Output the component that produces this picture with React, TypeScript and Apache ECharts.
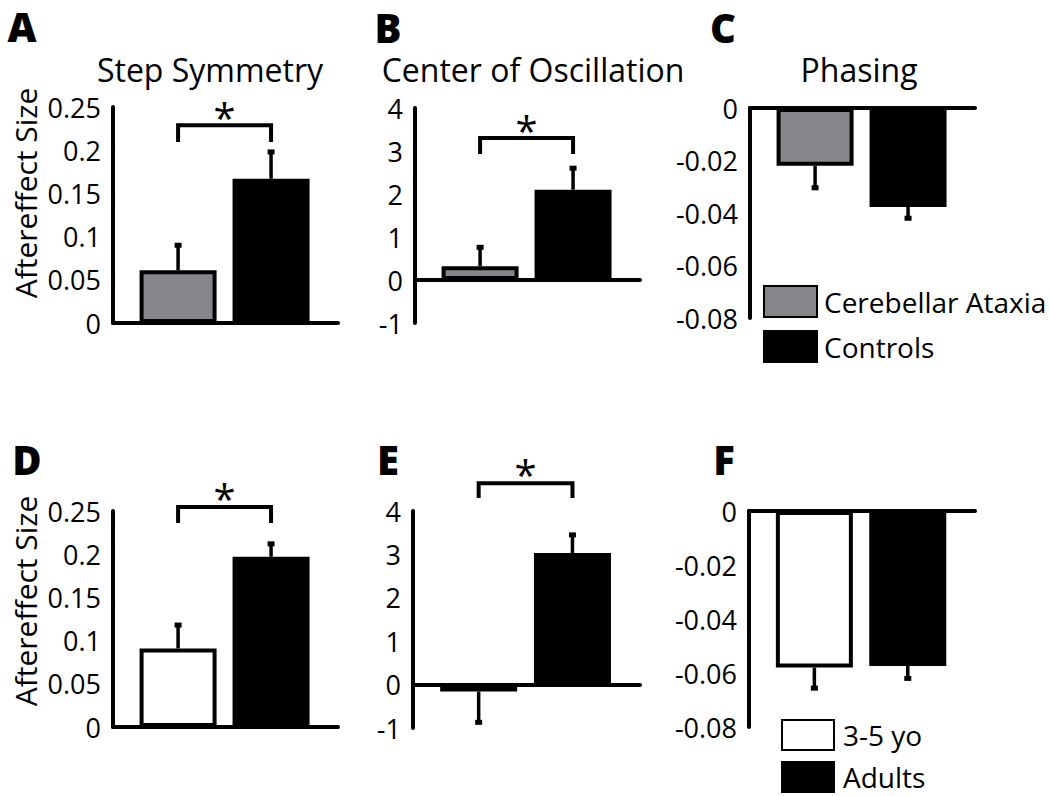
import React, { useEffect, useRef } from 'react';
import * as echarts from 'echarts';

// ---------- data ----------
const topGroups = ['Cerebellar Ataxia', 'Controls'];
const bottomGroups = ['3-5 yo', 'Adults'];
const groupX = [1, 2];

const panelTitles = ['Step Symmetry', 'Center of Oscillation', 'Phasing'];
const panelLetters = ['A', 'B', 'C', 'D', 'E', 'F'];
const yAxisTitle = 'Aftereffect Size';

const stepSymTopMean = [0.061, 0.167];
const stepSymTopErr = [0.029, 0.031];
const centerOscTopMean = [0.32, 2.1];
const centerOscTopErr = [0.44, 0.5];
const phasingTopMean = [-0.022, -0.0377];
const phasingTopErr = [0.0084, 0.0043];

const stepSymBottomMean = [0.091, 0.197];
const stepSymBottomErr = [0.027, 0.015];
const centerOscBottomMean = [-0.16, 3.03];
const centerOscBottomErr = [0.71, 0.42];
const phasingBottomMean = [-0.058, -0.0574];
const phasingBottomErr = [0.0076, 0.0046];

// y axis ranges [min, max, interval]
const stepSymRange = [0, 0.25, 0.05];
const centerOscRange = [-1, 4, 1];
const phasingRange = [-0.08, 0, 0.02];

// significance brackets: [xFrom, xTo, bracketTop, legEnd, starY]
const sigA = [1, 2, 0.229, 0.2095, 0.2465];
const sigB = [1, 2, 3.3, 2.93, 3.63];
const sigD = [1, 2, 0.2546, 0.236, 0.272];
const sigE = [1, 2, 4.64, 4.3, 5.01];

// ---------- styles / layout ----------
const FONT = '"Open Sans", "Noto Sans", sans-serif';
const GRAY = '#85868a';
const X_MIN = 0.3;
const X_MAX = 2.72;
const BAR_W = 77;
const STAR_DY = 7;

const grids = [
  { left: 113, top: 107, width: 225, height: 216 },
  { left: 415, top: 108, width: 225, height: 215 },
  { left: 750, top: 108, width: 225, height: 210 },
  { left: 113, top: 511, width: 225, height: 216 },
  { left: 413, top: 511, width: 227, height: 217 },
  { left: 749, top: 511, width: 226, height: 216 },
];

type Panel = {
  mean: number[];
  err: number[];
  range: number[];
  names: string[];
  fill: string;
  sig: number[] | null;
};

const panels: Panel[] = [
  { mean: stepSymTopMean, err: stepSymTopErr, range: stepSymRange, names: topGroups, fill: GRAY, sig: sigA },
  { mean: centerOscTopMean, err: centerOscTopErr, range: centerOscRange, names: topGroups, fill: GRAY, sig: sigB },
  { mean: phasingTopMean, err: phasingTopErr, range: phasingRange, names: topGroups, fill: GRAY, sig: null },
  { mean: stepSymBottomMean, err: stepSymBottomErr, range: stepSymRange, names: bottomGroups, fill: '#ffffff', sig: sigD },
  { mean: centerOscBottomMean, err: centerOscBottomErr, range: centerOscRange, names: bottomGroups, fill: '#ffffff', sig: sigE },
  { mean: phasingBottomMean, err: phasingBottomErr, range: phasingRange, names: bottomGroups, fill: '#ffffff', sig: null },
];

function buildOption() {
  const xAxis: any[] = [];
  const yAxis: any[] = [];
  const series: any[] = [];

  panels.forEach((p, i) => {
    xAxis.push({
      type: 'value',
      gridIndex: i,
      min: X_MIN,
      max: X_MAX,
      axisLine: { show: true, onZero: true, lineStyle: { color: '#000', width: 4 } },
      axisTick: { show: false },
      axisLabel: { show: false },
      splitLine: { show: false },
    });
    yAxis.push({
      type: 'value',
      gridIndex: i,
      min: p.range[0],
      max: p.range[1],
      interval: p.range[2],
      axisLine: { show: true, onZero: false, lineStyle: { color: '#000', width: 4 } },
      axisTick: { show: false },
      splitLine: { show: false },
      axisLabel: { color: '#000', fontSize: 27, fontFamily: FONT, margin: 12 },
    });
    p.names.forEach((name, g) => {
      series.push({
        type: 'bar',
        name,
        xAxisIndex: i,
        yAxisIndex: i,
        barWidth: BAR_W,
        barGap: '-100%',
        data: [[groupX[g], p.mean[g]]],
        itemStyle: { color: g === 0 ? p.fill : '#000', borderColor: '#000', borderWidth: 4 },
        z: 2,
      });
    });
    series.push({
      type: 'custom',
      xAxisIndex: i,
      yAxisIndex: i,
      clip: false,
      z: 5,
      encode: { x: 0, y: 1 },
      data: groupX.map((x, g) => [x, p.mean[g], p.err[g]]),
      renderItem: (params: any, api: any) => {
        const x = api.value(0);
        const m = api.value(1);
        const e = api.value(2);
        const dir = m >= 0 ? 1 : -1;
        const p0 = api.coord([x, m]);
        const p1 = api.coord([x, m + dir * e]);
        return {
          type: 'group',
          children: [
            { type: 'line', shape: { x1: p0[0], y1: p0[1], x2: p1[0], y2: p1[1] }, style: { stroke: '#000', lineWidth: 3.5 } },
            { type: 'rect', shape: { x: p1[0] - 3.5, y: p1[1] - 2.5, width: 7, height: 5 }, style: { fill: '#000' } },
          ],
        };
      },
    });
    if (p.sig) {
      series.push({
        type: 'custom',
        xAxisIndex: i,
        yAxisIndex: i,
        clip: false,
        z: 5,
        encode: { x: [0, 1], y: [2, 3, 4] },
        data: [p.sig],
        renderItem: (params: any, api: any) => {
          const x0 = api.value(0);
          const x1 = api.value(1);
          const top = api.value(2);
          const leg = api.value(3);
          const star = api.value(4);
          const a = api.coord([x0, leg]);
          const b = api.coord([x0, top]);
          const c = api.coord([x1, top]);
          const d = api.coord([x1, leg]);
          const s = api.coord([(x0 + x1) / 2, star]);
          return {
            type: 'group',
            children: [
              { type: 'polyline', shape: { points: [a, b, c, d] }, style: { stroke: '#000', lineWidth: 4, fill: null } },
              {
                type: 'text',
                x: s[0],
                y: s[1] + STAR_DY,
                style: { text: '*', fontSize: 40, fontFamily: FONT, fill: '#000', align: 'center', verticalAlign: 'middle' },
              },
            ],
          };
        },
      });
    }
  });

  const letterPos = [
    [22, 26], [388, 27], [723, 27], [27, 459], [388, 459], [724, 459],
  ];
  const titlePos = [[210, 69], [533, 69], [859, 69]];
  const yTitlePos = [[25, 193], [25, 601]];

  const graphic: any[] = [];
  panelLetters.forEach((t, i) => {
    graphic.push({
      type: 'text',
      x: letterPos[i][0],
      y: letterPos[i][1],
      style: { text: t, fontSize: 40, fontWeight: 800, fontFamily: FONT, fill: '#000', align: 'center', verticalAlign: 'middle' },
    });
  });
  panelTitles.forEach((t, i) => {
    graphic.push({
      type: 'text',
      x: titlePos[i][0],
      y: titlePos[i][1],
      style: { text: t, fontSize: 32, fontFamily: FONT, fill: '#000', align: 'center', verticalAlign: 'middle' },
    });
  });
  yTitlePos.forEach((pos) => {
    graphic.push({
      type: 'text',
      x: pos[0],
      y: pos[1],
      rotation: Math.PI / 2,
      style: { text: yAxisTitle, fontSize: 30, fontFamily: FONT, fill: '#000', align: 'center', verticalAlign: 'middle' },
    });
  });

  return {
    animation: false,
    backgroundColor: '#fff',
    grid: grids.map((g) => ({ ...g, containLabel: false })),
    xAxis,
    yAxis,
    legend: [
      {
        data: topGroups,
        orient: 'vertical',
        left: 763,
        top: 285,
        width: 290,
        height: 120,
        padding: 0,
        itemWidth: 53,
        itemHeight: 31,
        itemGap: 12,
        selectedMode: false,
        icon: 'rect',
        textStyle: { fontSize: 28, lineHeight: 30, fontFamily: FONT, color: '#000', padding: [0, 0, 0, 2] },
      },
      {
        data: bottomGroups,
        orient: 'vertical',
        left: 781,
        top: 719,
        width: 260,
        height: 120,
        padding: 0,
        itemWidth: 52,
        itemHeight: 30,
        itemGap: 10,
        selectedMode: false,
        icon: 'rect',
        textStyle: { fontSize: 28, lineHeight: 28, fontFamily: FONT, color: '#000', padding: [0, 0, 0, 4] },
      },
    ],
    graphic,
    series,
  };
}

export default function App() {
  const ref = useRef<HTMLDivElement>(null);
  useEffect(() => {
    if (!ref.current) return;
    const chart = echarts.init(ref.current, undefined, { renderer: 'svg' });
    chart.setOption(buildOption() as any);
    return () => chart.dispose();
  }, []);
  return (
    <div
      ref={ref}
      style={{ position: 'absolute', left: 0, top: 0, width: 1050, height: 796, background: '#fff' }}
    />
  );
}
